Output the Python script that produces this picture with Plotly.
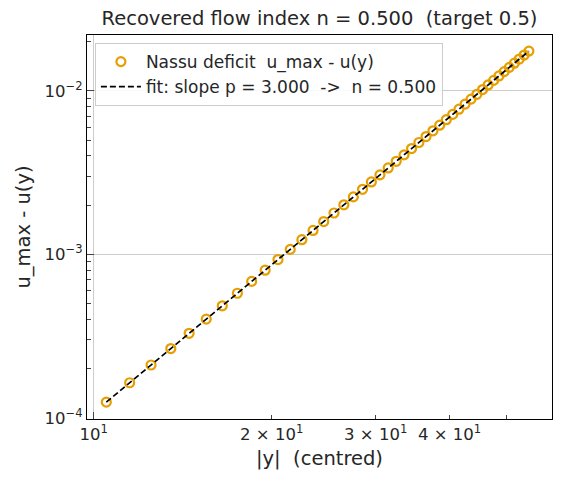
import plotly.graph_objects as go

# |y| (centred) sample positions
y_abs = [10.5, 11.5, 12.5, 13.5, 14.5, 15.5, 16.5, 17.5, 18.5, 19.5,
         20.5, 21.5, 22.5, 23.5, 24.5, 25.5, 26.5, 27.5, 28.5, 29.5,
         30.5, 31.5, 32.5, 33.5, 34.5, 35.5, 36.5, 37.5, 38.5, 39.5,
         40.5, 41.5, 42.5, 43.5, 44.5, 45.5, 46.5, 47.5, 48.5, 49.5,
         50.5, 51.5, 52.5, 53.5, 54.5]
# velocity deficit u_max - u(y)
deficit = [1.250e-4, 1.643e-4, 2.109e-4, 2.657e-4, 3.293e-4, 4.022e-4, 4.851e-4,
           5.788e-4, 6.838e-4, 8.008e-4, 9.304e-4, 1.0733e-3, 1.2302e-3, 1.4016e-3,
           1.5883e-3, 1.7908e-3, 2.0098e-3, 2.2461e-3, 2.5001e-3, 2.7726e-3,
           3.0642e-3, 3.3756e-3, 3.7074e-3, 4.0603e-3, 4.4349e-3, 4.8318e-3,
           5.2517e-3, 5.6953e-3, 6.1632e-3, 6.6560e-3, 7.1745e-3, 7.7191e-3,
           8.2907e-3, 8.8898e-3, 9.5171e-3, 1.01732e-2, 1.08588e-2, 1.15746e-2,
           1.23211e-2, 1.30990e-2, 1.39091e-2, 1.47518e-2, 1.56279e-2,
           1.65381e-2, 1.74829e-2]
# power-law fit line (endpoints)
fit_x = [10.5, 54.5]
fit_y = [1.250e-4, 1.7483e-2]

x_tickvals = [10, 20, 30, 40, 50]
x_ticktext = ["10<sup>1</sup>", "2 × 10<sup>1</sup>", "3 × 10<sup>1</sup>", "4 × 10<sup>1</sup>", ""]
y_tickvals = [1e-4, 1e-3, 1e-2]
y_ticktext = ["10<sup>−4</sup>", "10<sup>−3</sup>", "10<sup>−2</sup>"]
y_minor = [k * 10.0 ** e for e in (-4, -3) for k in range(2, 10)] + [2e-2]

ORANGE = "#E69F00"
FONT = "DejaVu Sans"
TXT = "#262626"

fig = go.Figure()
fig.add_trace(go.Scatter(
    x=y_abs, y=deficit, mode="markers",
    name="Nassu deficit  u_max - u(y)",
    marker=dict(symbol="circle-open", size=9, color=ORANGE, line=dict(width=2.2, color=ORANGE)),
))
fig.add_trace(go.Scatter(
    x=fit_x, y=fit_y, mode="lines",
    name="fit: slope p = 3.000  ->  n = 0.500",
    line=dict(color="black", width=1.7, dash="6px,3px"),
))

fig.update_layout(
    width=575, height=484,
    margin=dict(l=87, r=23, t=35, b=65),
    paper_bgcolor="white", plot_bgcolor="white",
    font=dict(family=FONT, color=TXT),
    title=dict(text="Recovered flow index n = 0.500  (target 0.5)",
               x=(87 + 552) / 2 / 575, xanchor="center", y=0.963, yanchor="middle",
               font=dict(size=19.5, family=FONT, color=TXT)),
    showlegend=True,
    legend=dict(x=0.017, y=0.979, xanchor="left", yanchor="top",
                bgcolor="rgba(255,255,255,0.85)", bordercolor="#cccccc", borderwidth=1,
                font=dict(size=17, family=FONT, color=TXT),
                tracegroupgap=0, itemwidth=40),
)

fig.update_xaxes(
    type="log", range=[0.9885, 1.7755],
    title=dict(text="|y|  (centred)", font=dict(size=19.5, family=FONT, color=TXT), standoff=8),
    tickvals=x_tickvals, ticktext=x_ticktext,
    tickfont=dict(size=16.5, family=FONT, color=TXT),
    ticks="inside", ticklen=4, tickwidth=1, tickcolor="#444",
    showgrid=False, zeroline=False,
    showline=True, linecolor="black", linewidth=1.4, mirror=True,
    minor=dict(tickvals=[10], showgrid=True, gridcolor="#cccccc", gridwidth=1,
               ticks="inside", ticklen=7, tickcolor="#444"),
)
fig.update_yaxes(
    type="log", range=[-4.006, -1.659],
    title=dict(text="u_max - u(y)", font=dict(size=19.5, family=FONT, color=TXT), standoff=8),
    tickvals=y_tickvals, ticktext=y_ticktext,
    tickfont=dict(size=16.5, family=FONT, color=TXT),
    ticks="inside", ticklen=7, tickwidth=1, tickcolor="#444",
    showgrid=True, gridcolor="#cccccc", gridwidth=1, zeroline=False,
    showline=True, linecolor="black", linewidth=1.4, mirror=True,
    minor=dict(tickvals=y_minor, ticks="inside", ticklen=4, tickcolor="#444", showgrid=False),
)

fig.write_html("out.html")
